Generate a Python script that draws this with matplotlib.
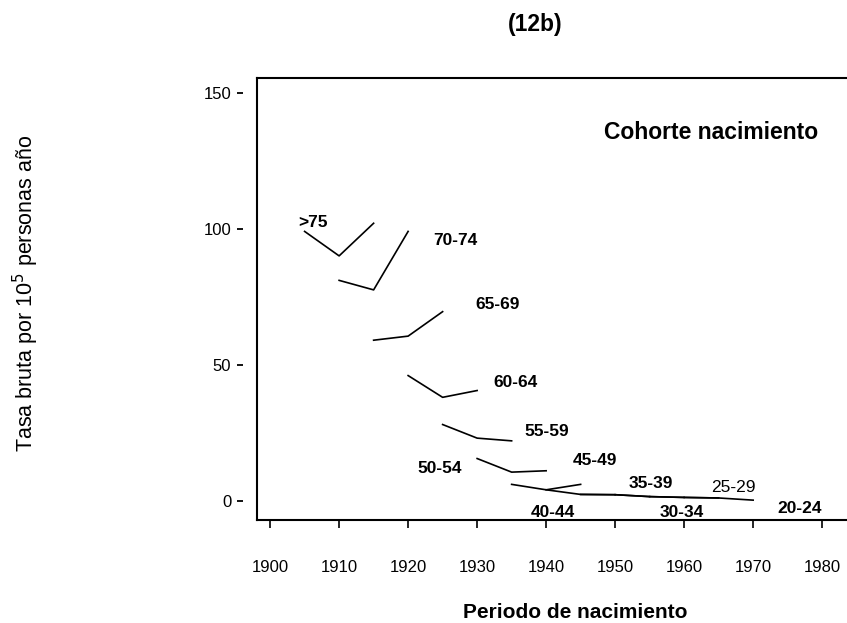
import numpy as np
import matplotlib
matplotlib.use("Agg")
import matplotlib.pyplot as plt

plt.rcParams['font.family'] = ['Liberation Sans', 'DejaVu Sans']

# grupos de edad, cohortes de nacimiento y tasas
grupos = [">75", "70-74", "65-69", "60-64", "55-59", "50-54",
          "45-49", "40-44", "35-39", "30-34", "25-29", "20-24"]
cohorte_inicio = [1905, 1910, 1915, 1920, 1925, 1930,
                  1935, 1940, 1945, 1950, 1955, 1960]
tasas = [
    [99.0, 90.0, 102.0],
    [81.0, 77.5, 99.0],
    [59.0, 60.5, 69.5],
    [46.0, 38.0, 40.5],
    [28.0, 23.0, 22.0],
    [15.5, 10.5, 11.0],
    [6.0, 4.0, 6.0],
    [4.0, 2.3, 2.2],
    [2.3, 2.2, 1.5],
    [2.2, 1.5, 1.2],
    [1.5, 1.2, 1.0],
    [1.2, 1.0, 0.2],
]

# posicion de las etiquetas (x, y) en unidades de datos
etiqueta_x = [1906.2, 1926.8, 1932.9, 1935.5, 1940.1, 1924.5,
              1947.1, 1941.0, 1955.2, 1959.6, 1967.1, 1976.7]
etiqueta_y = [102.4, 95.8, 72.3, 43.3, 25.6, 11.7,
              14.6, -4.5, 6.5, -4.5, 5.0, -2.7]
negrita = [True] * 10 + [False, True]

xticks = [1900, 1910, 1920, 1930, 1940, 1950, 1960, 1970, 1980]
yticks = [0, 50, 100, 150]

fig = plt.figure(figsize=(8.47, 6.23), dpi=100)
ax = fig.add_axes([257/847, 103/623, 590/847, 442/623])

for i, g in enumerate(grupos):
    x = np.arange(3) * 5 + cohorte_inicio[i]
    ax.plot(x, tasas[i], color="black", lw=1.2)
    ax.text(etiqueta_x[i], etiqueta_y[i], g, ha="center", va="center",
            fontsize=12.5, fontweight="bold" if negrita[i] else "normal")

ax.set_xlim(1898.1, 1983.6)
ax.set_ylim(-7.1, 155.4)
ax.set_xticks(xticks)
ax.set_yticks(yticks)

ax.spines['right'].set_visible(False)
ax.spines['left'].set_position(('outward', 10))
ax.spines['left'].set_visible(False)
for s in ['top', 'bottom']:
    ax.spines[s].set_linewidth(1.5)
ax.plot([0, 0], [0, 1], transform=ax.transAxes, color="black", lw=1.5,
        clip_on=False)

ax.tick_params(axis='y', length=4.5, width=1.3, pad=4, labelsize=12)
ax.tick_params(axis='x', length=6, width=1.2, pad=23, labelsize=12)

ax.text(0.77, 0.876, "Cohorte nacimiento", transform=ax.transAxes,
        ha="center", va="center", fontsize=16.5, fontweight="bold")

fig.text(535/847, 1 - 24/623, "(12b)", ha="center", va="center",
         fontsize=16.5, fontweight="bold")
fig.text(575/847, 1 - 612/623, "Periodo de nacimiento", ha="center",
         va="center", fontsize=15, fontweight="bold")
fig.text(26/847, 1 - 293/623, r"Tasa bruta por 10$^5$ personas año",
         rotation=90, ha="center", va="center", fontsize=15.5)

fig.savefig("out.png", dpi=100)
